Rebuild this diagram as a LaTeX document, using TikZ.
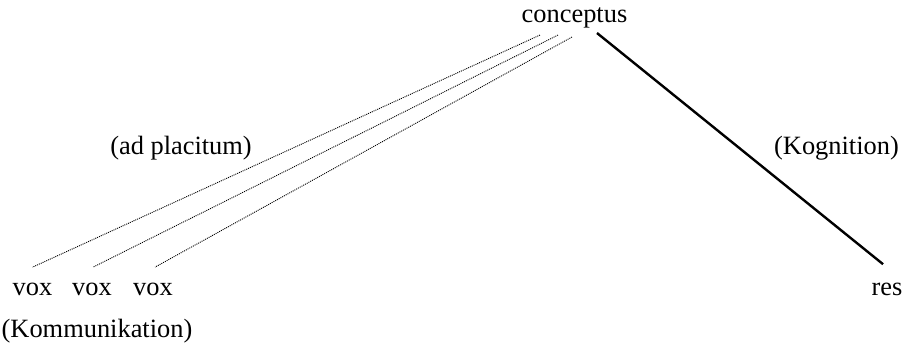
\documentclass[tikz,border=0pt]{standalone}
\usepackage{fontspec}
\setmainfont{Liberation Serif}
\usetikzlibrary{positioning, calc}
\tikzstyle{word} = [inner sep=0pt, anchor=base, font=\fontsize{13.2}{16}\selectfont]
\tikzstyle{conv} = [line width=0.45pt, dash pattern=on 0.5pt off 0.5pt]
\tikzstyle{link} = [line width=1.2pt]

\begin{document}
\begin{tikzpicture}[x=0.5pt, y=-0.5pt]
\useasboundingbox (0,0) rectangle (908,344);

% top
\node (concept) [word] at (574.5,22) {conceptus};

% bottom row
\node (vox1) [word] at (32.5,295) {vox};
\node (vox2) [word] at (92,295) {vox};
\node (vox3) [word] at (153,295) {vox};
\node (res) [word] at (887,295) {res};
\node (komm) [word] at (97,337) {(Kommunikation)};

% labels
\node (plac) [word] at (181,154) {(ad placitum)};
\node (kogn) [word] at (836.5,154) {(Kognition)};

% lines
\draw [conv] ($(concept.south)+(-34.5,7)$) -- ($(vox1.north)+(0,-15)$);
\draw [conv] ($(concept.south)+(-16.5,7)$) -- ($(vox2.north)+(1,-15)$);
\draw [conv] ($(concept.south)+(-2.5,9)$) -- ($(vox3.north)+(2,-15)$);
\draw [link] ($(concept.south)+(22.5,5)$) -- ($(res.north)+(-4,-18)$);

\end{tikzpicture}
\end{document}
